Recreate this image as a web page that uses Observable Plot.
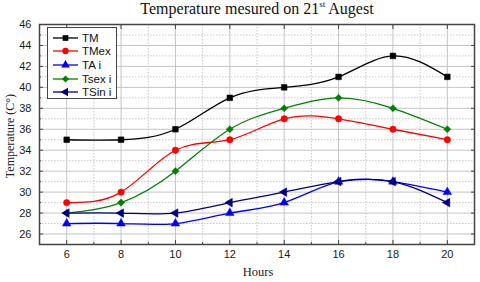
<!DOCTYPE html>
<html><head><meta charset="utf-8">
<script src="https://cdn.jsdelivr.net/npm/d3@7"></script>
<script src="https://cdn.jsdelivr.net/npm/@observablehq/plot@0.6"></script>
<style>
body{margin:0;background:#fff}
#wrap{position:relative;width:480px;height:282px;overflow:hidden}
#title{height:20px;line-height:25px;font:16px "Liberation Serif",serif;text-align:center;padding-left:34px;color:#111;white-space:nowrap}
#title sup{font-size:9px;vertical-align:7px;line-height:0}
#chart svg{overflow:visible}
.ylab{position:absolute;left:10px;top:136px;transform:translate(-50%,-50%) rotate(-90deg);font:12px "Liberation Serif",serif;color:#222;white-space:nowrap}
.xlab{position:absolute;left:258px;top:272px;transform:translate(-50%,-50%);font:12.5px "Liberation Serif",serif;color:#222}
#legend{position:absolute;left:47px;top:27px;width:70px;height:72px;border:1px solid #444;background:#fff;font:11.5px "Liberation Sans",Arial,sans-serif;color:#111;padding-top:3px;box-sizing:border-box;white-space:nowrap}
#legend .row{height:13.6px;display:flex;align-items:center}
#legend svg{display:block;margin-left:5px;margin-right:4px}
</style></head>
<body>
<div id="wrap">
<div id="title">Temperature mesured on 21<sup>st</sup> Augest</div>
<div id="chart"></div>
<div class="ylab">Temperature (C°)</div>
<div class="xlab">Hours</div>
<div id="legend"></div>
</div>
<script>
const hours = [6, 8, 10, 12, 14, 16, 18, 20];
const TM    = [35, 35, 36, 39, 40, 41, 43, 41];
const TMex  = [29, 30, 34, 35, 37, 37, 36, 35];
const TAi   = [27, 27, 27, 28, 29, 31, 31, 30];
const Tsexi = [28, 29, 32, 36, 38, 39, 38, 36];
const TSini = [28, 28, 28, 29, 30, 31, 31, 29];
const seriesNames = ["TM", "TMex", "TA i", "Tsex i", "TSin i"];
const seriesColors = ["#000000", "#ff0000", "#0000ff", "#008000", "#000080"];
const xTicks = [6, 8, 10, 12, 14, 16, 18, 20];
const xMinor = [5, 7, 9, 11, 13, 15, 17, 19, 21];
const yTicks = [26, 28, 30, 32, 34, 36, 38, 40, 42, 44, 46];
const yMinor = [25, 27, 29, 31, 33, 35, 37, 39, 41, 43, 45];

const triLeft = {draw(ctx, size) {
  const y = -Math.sqrt(size / (Math.sqrt(3) * 3));
  ctx.moveTo(y * 2, 0);
  ctx.lineTo(-y, -Math.sqrt(3) * y);
  ctx.lineTo(-y, Math.sqrt(3) * y);
  ctx.closePath();
}};
const seriesSymbols = [d3.symbolSquare, d3.symbolCircle, d3.symbolTriangle, d3.symbolDiamond2, triLeft];

const valueLists = [TM, TMex, TAi, Tsexi, TSini];
const data = [];
seriesNames.forEach((s, i) => hours.forEach((h, j) => data.push({series: s, hour: h, temp: valueLists[i][j]})));

const chart = Plot.plot({
  width: 480, height: 262,
  marginTop: 4, marginBottom: 38, marginLeft: 39, marginRight: 6,
  style: {fontFamily: '"Liberation Sans", Arial, sans-serif', fontSize: "11px", color: "#1a1a1a", background: "transparent"},
  x: {domain: [5, 21], ticks: xTicks},
  y: {domain: [25, 46], ticks: yTicks},
  color: {domain: seriesNames, range: seriesColors},
  symbol: {domain: seriesNames, range: seriesSymbols},
  marks: [
    Plot.ruleX(xMinor, {stroke: "#c8c8c8", strokeDasharray: "1.5,1.5"}),
    Plot.ruleY(yMinor, {stroke: "#c8c8c8", strokeDasharray: "1.5,1.5"}),
    Plot.ruleX(xTicks, {stroke: "#c4c4c4"}),
    Plot.ruleY(yTicks, {stroke: "#c4c4c4"}),
    Plot.line(data, {x: "hour", y: "temp", z: "series", stroke: "series", curve: "natural", strokeWidth: 1.3}),
    Plot.dot(data, {x: "hour", y: "temp", fill: "series", stroke: "series", symbol: "series", r: 3.2, strokeWidth: 0.5}),
    Plot.axisX({ticks: xTicks, tickSize: -4, tickPadding: 10, label: null, stroke: "#444"}),
    Plot.axisY({ticks: yTicks, tickSize: -4, tickPadding: 12, label: null, stroke: "#444"}),
    Plot.axisX({ticks: xMinor, tickSize: -2, tickFormat: () => "", label: null, stroke: "#444"}),
    Plot.axisY({ticks: yMinor, tickSize: -2, tickFormat: () => "", label: null, stroke: "#444"}),
    Plot.axisY({anchor: "right", ticks: yTicks, tickSize: -4, tickFormat: () => "", label: null, stroke: "#444"}),
    Plot.axisX({anchor: "top", ticks: xTicks, tickSize: -4, tickFormat: () => "", label: null, stroke: "#444"}),
    Plot.frame({stroke: "#444", strokeWidth: 1.5})
  ]
});
document.getElementById("chart").appendChild(chart);

const legend = document.getElementById("legend");
const sym = d3.symbol().size(Math.PI * 3.2 * 3.2);
seriesNames.forEach((s, i) => {
  const row = document.createElement("div");
  row.className = "row";
  const svg = d3.create("svg").attr("width", 25).attr("height", 12);
  svg.append("line").attr("x1", 0).attr("x2", 25).attr("y1", 6).attr("y2", 6).attr("stroke", seriesColors[i]).attr("stroke-width", 1.3);
  svg.append("path").attr("transform", "translate(12.5,6)").attr("d", sym.type(seriesSymbols[i])()).attr("fill", seriesColors[i]);
  row.appendChild(svg.node());
  const t = document.createElement("span");
  t.textContent = s;
  row.appendChild(t);
  legend.appendChild(row);
});
</script>
</body></html>
